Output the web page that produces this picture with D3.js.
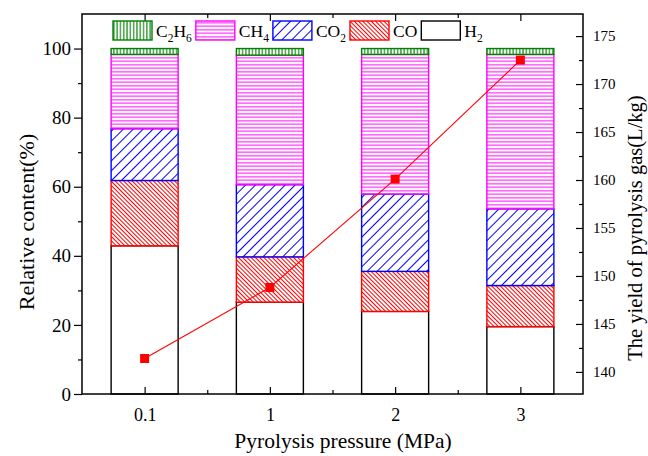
<!DOCTYPE html>
<meta charset="utf-8">
<script src="https://d3js.org/d3.v7.min.js"></script>
<style>
body { margin: 0; background: #fff; }
text { font-family: "Liberation Serif", "Times New Roman", serif; fill: #000; }
.axis path { display: none; }
.axis line { stroke: #000; stroke-width: 1.2px; }
</style>
<body>
<script>

// pressure categories and gas composition (%)
var pressures = ["0.1", "1", "2", "3"];
var h2   = [42.9, 26.6, 23.9, 19.5];
var co   = [18.9, 13.1, 11.6, 11.9];
var co2  = [15.0, 20.9, 22.4, 22.2];
var ch4  = [21.5, 37.5, 40.4, 44.7];
var c2h6 = [1.7, 1.9, 1.7, 1.7];
// yield of pyrolysis gas (L/kg), right axis
var gasYield = [141.4, 148.8, 160.1, 172.5];

var leftTicks = [0, 20, 40, 60, 80, 100];
var rightTicks = [140, 145, 150, 155, 160, 165, 170, 175];

var gases = ["H2", "CO", "CO2", "CH4", "C2H6"];
var legendOrder = ["C2H6", "CH4", "CO2", "CO", "H2"];
var colors = { H2: "#000", CO: "#ff0000", CO2: "#0000ff", CH4: "#ff00ff", C2H6: "#008000" };

var rows = pressures.map(function(p, i) {
  return { p: p, H2: h2[i], CO: co[i], CO2: co2[i], CH4: ch4[i], C2H6: c2h6[i] };
});

var W = 648, H = 456;
var plotL = 82, plotR = 583, plotT = 14, plotB = 394;

var svg = d3.select("body").append("svg")
    .attr("width", W)
    .attr("height", H);

var x = d3.scaleLinear().domain([0.5, 4.5]).range([plotL, plotR]);
var yL = d3.scaleLinear().domain([0, 110]).range([plotB, plotT]);
var yR = d3.scaleLinear().domain([137.7, 177.3]).range([plotB, plotT]);

// hatch patterns
var defs = svg.append("defs");
function hatch(id, color, spacing, angle, sw) {
  var p = defs.append("pattern")
      .attr("id", id)
      .attr("patternUnits", "userSpaceOnUse")
      .attr("width", spacing)
      .attr("height", spacing)
      .attr("patternTransform", "rotate(" + angle + ")");
  p.append("rect").attr("width", spacing).attr("height", spacing).attr("fill", "#fff");
  p.append("line")
      .attr("x1", spacing / 2).attr("x2", spacing / 2)
      .attr("y1", 0).attr("y2", spacing)
      .attr("stroke", color).attr("stroke-width", sw);
}
hatch("pat-C2H6", colors.C2H6, 3.3, 0, 1.1);
hatch("pat-CH4", colors.CH4, 3.5, 90, 1);
hatch("pat-CO2", colors.CO2, 7, 45, 1);
hatch("pat-CO", colors.CO, 3, -45, 1);
function fillOf(k) { return k == "H2" ? "#fff" : "url(#pat-" + k + ")"; }

// stacked bars
var stack = d3.stack().keys(gases)(rows);
var barW = 0.535;

var layers = svg.selectAll(".layer")
  .data(stack).enter().append("g")
  .attr("class", "layer");

layers.selectAll("rect")
  .data(function(s) { return s.map(function(d, i) { return { key: s.key, i: i, y0: d[0], y1: d[1] }; }); })
  .enter().append("rect")
  .attr("x", function(d) { return x(d.i + 1 - barW / 2); })
  .attr("width", function(d) { return x(d.i + 1 + barW / 2) - x(d.i + 1 - barW / 2); })
  .attr("y", function(d) { return yL(d.y1); })
  .attr("height", function(d) { return yL(d.y0) - yL(d.y1); })
  .attr("fill", function(d) { return fillOf(d.key); })
  .attr("stroke", function(d) { return colors[d.key]; })
  .attr("stroke-width", 1.4);

// yield line
var line = d3.line()
  .x(function(d, i) { return x(i + 1); })
  .y(function(d) { return yR(d); });

svg.append("path")
  .datum(gasYield)
  .attr("d", line)
  .attr("fill", "none")
  .attr("stroke", "#ff0000")
  .attr("stroke-width", 1.1);

svg.selectAll(".pt")
  .data(gasYield).enter().append("rect")
  .attr("class", "pt")
  .attr("x", function(d, i) { return x(i + 1) - 4.5; })
  .attr("y", function(d) { return yR(d) - 4.5; })
  .attr("width", 9)
  .attr("height", 9)
  .attr("fill", "#ff0000");

// axes
var xAxis = d3.axisBottom(x)
  .tickValues([1, 2, 3, 4])
  .tickFormat(function(d) { return pressures[d - 1]; })
  .tickSize(-7)
  .tickPadding(14);
var gx = svg.append("g").attr("class", "axis")
  .attr("transform", "translate(0," + plotB + ")")
  .call(xAxis);
gx.selectAll("text").style("font-size", "18px");

svg.append("g").attr("class", "axis")
  .attr("transform", "translate(0," + plotB + ")")
  .call(d3.axisBottom(x).tickValues([1.5, 2.5, 3.5]).tickSize(-4).tickFormat(""));

svg.append("g").attr("class", "axis")
  .attr("transform", "translate(0," + plotT + ")")
  .call(d3.axisTop(x).tickValues([1, 2, 3, 4]).tickSize(-7).tickFormat(""));
svg.append("g").attr("class", "axis")
  .attr("transform", "translate(0," + plotT + ")")
  .call(d3.axisTop(x).tickValues([1.5, 2.5, 3.5]).tickSize(-4).tickFormat(""));

var gyl = svg.append("g").attr("class", "axis")
  .attr("transform", "translate(" + plotL + ",0)")
  .call(d3.axisLeft(yL).tickValues(leftTicks).tickSize(8).tickPadding(3));
gyl.selectAll("text").style("font-size", "19px");
svg.append("g").attr("class", "axis")
  .attr("transform", "translate(" + plotL + ",0)")
  .call(d3.axisLeft(yL).tickValues([10, 30, 50, 70, 90]).tickSize(4).tickFormat(""));

var gyr = svg.append("g").attr("class", "axis")
  .attr("transform", "translate(" + plotR + ",0)")
  .call(d3.axisRight(yR).tickValues(rightTicks).tickSize(-7).tickPadding(10));
gyr.selectAll("text").style("font-size", "15px");
svg.append("g").attr("class", "axis")
  .attr("transform", "translate(" + plotR + ",0)")
  .call(d3.axisRight(yR).tickValues([142.5, 147.5, 152.5, 157.5, 162.5, 167.5, 172.5])
    .tickSize(-4).tickFormat(""));

// frame
svg.append("rect")
  .attr("x", plotL).attr("y", plotT)
  .attr("width", plotR - plotL).attr("height", plotB - plotT)
  .attr("fill", "none")
  .attr("stroke", "#000")
  .attr("stroke-width", 1.5);

// axis titles
svg.append("text")
  .attr("transform", "translate(343,448)")
  .attr("text-anchor", "middle")
  .style("font-size", "21.5px")
  .text("Pyrolysis pressure (MPa)");

svg.append("text")
  .attr("transform", "translate(34,222) rotate(-90)")
  .attr("text-anchor", "middle")
  .style("font-size", "22px")
  .text("Relative content(%)");

svg.append("text")
  .attr("transform", "translate(642,228) rotate(-90)")
  .attr("text-anchor", "middle")
  .style("font-size", "20.5px")
  .text("The yield of pyrolysis gas(L/kg)");

// legend
function writeFormula(t, s) {
  s.split("").forEach(function(ch, j) {
    var isDigit = /\d/.test(ch);
    var prevDigit = j > 0 && /\d/.test(s[j - 1]);
    var ts = t.append("tspan").text(ch);
    if (isDigit) ts.style("font-size", "11.5px").attr("dy", prevDigit ? 0 : 5);
    else if (prevDigit) ts.attr("dy", -5);
  });
}

var cursor = 113;
legendOrder.forEach(function(k) {
  svg.append("rect")
    .attr("x", cursor).attr("y", 21)
    .attr("width", 39).attr("height", 19)
    .attr("fill", fillOf(k))
    .attr("stroke", colors[k])
    .attr("stroke-width", 1.4);
  var t = svg.append("text")
    .attr("x", cursor + 43)
    .attr("y", 37)
    .style("font-size", "17.5px");
  writeFormula(t, k);
  cursor = cursor + 43 + t.node().getComputedTextLength() + 4;
});

</script>
</body>
